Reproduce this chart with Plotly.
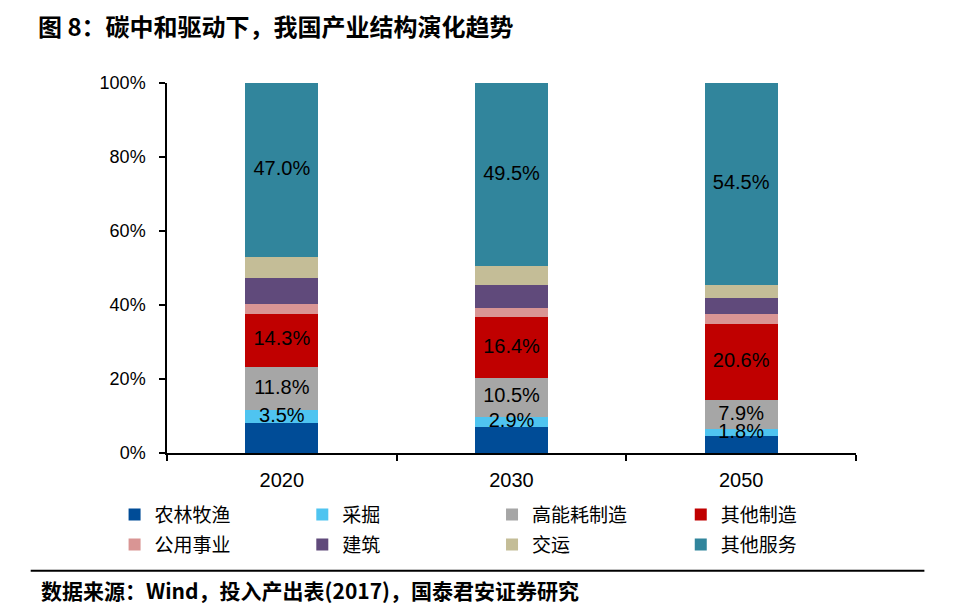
import plotly.graph_objects as go

years = ["2020", "2030", "2050"]
series_names = ["农林牧渔", "采掘", "高能耗制造", "其他制造", "公用事业", "建筑", "交运", "其他服务"]
agri = [8.0, 6.9, 4.6]
mining = [3.5, 2.9, 1.8]
high_energy = [11.8, 10.5, 7.9]
other_mfg = [14.3, 16.4, 20.6]
utilities = [2.6, 2.5, 2.6]
construction = [7.0, 6.1, 4.5]
transport = [5.8, 5.2, 3.5]
services = [47.0, 49.5, 54.5]
values = [agri, mining, high_energy, other_mfg, utilities, construction, transport, services]
labelled = [False, True, True, True, False, False, False, True]
colors = ["#004C97", "#4FC4F0", "#A6A6A6", "#C00000", "#D99594", "#604A7B", "#C4BD97", "#31859C"]
y_ticks = [0, 20, 40, 60, 80, 100]
y_tick_text = [f"{v}%" for v in y_ticks]

W, H = 960, 611
L, R, T, B = 166.5, 103.5, 83.3, 157.7
pw, ph = W - L - R, H - T - B


def px_x(x):
    return (x - L) / pw


def px_y(y):
    return (H - B - y) / ph


fig = go.Figure()
legend_pos = [(114, 515), (302, 515), (492, 515), (681, 515),
              (114, 545), (302, 545), (492, 545), (681, 545)]
for i, (name, vals, col) in enumerate(zip(series_names, values, colors)):
    lg = "legend" if i == 0 else f"legend{i+1}"
    fig.add_trace(go.Bar(
        x=years, y=vals, name=name, marker=dict(color=col, line=dict(width=0)),
        legend=lg, hoverinfo="skip",
    ))

# data labels drawn on top of all bars, at the middle of each labelled segment
base = [0.0] * len(years)
for vals, lab in zip(values, labelled):
    mids = [b + v / 2 for b, v in zip(base, vals)]
    if lab:
        fig.add_trace(go.Scatter(
            x=years, y=mids, mode="text",
            text=[f"{v:.1f}%" for v in vals],
            textposition="middle center",
            textfont=dict(family="Liberation Sans", size=20, color="black"),
            showlegend=False, hoverinfo="skip", cliponaxis=False,
        ))
    base = [b + v for b, v in zip(base, vals)]

legend_common = dict(
    orientation="v", bgcolor="rgba(0,0,0,0)", borderwidth=0,
    font=dict(family="Noto Sans CJK SC", size=19, color="black"),
    xanchor="left", yanchor="middle", itemwidth=30,
    itemclick=False, itemdoubleclick=False,
)
layout_legends = {}
for i, (lx, ly) in enumerate(legend_pos):
    key = "legend" if i == 0 else f"legend{i+1}"
    layout_legends[key] = dict(legend_common, x=px_x(lx), y=px_y(ly))

fig.update_layout(
    width=W, height=H,
    margin=dict(l=L, r=R, t=T, b=B, autoexpand=False),
    paper_bgcolor="white", plot_bgcolor="white",
    barmode="stack", bargap=0.683,
    showlegend=True,
    xaxis=dict(
        type="category", showline=True, linecolor="black", linewidth=1.5,
        ticks="outside", ticklen=6, tickcolor="black", tickwidth=1.5,
        tickson="boundaries", showgrid=False,
        tickfont=dict(family="Liberation Sans", size=20, color="black"),
        ticklabelstandoff=8,
    ),
    yaxis=dict(
        range=[0, 100], tickvals=y_ticks, ticktext=y_tick_text,
        showline=True, linecolor="black", linewidth=1.5,
        ticks="outside", ticklen=6, tickcolor="black", tickwidth=1.5,
        showgrid=False, zeroline=False,
        tickfont=dict(family="Liberation Sans", size=18, color="black"),
        ticklabelstandoff=10,
    ),
    title=dict(
        text="<b>图 8：碳中和驱动下，我国产业结构演化趋势</b>",
        x=38 / W, xref="container", xanchor="left",
        y=1 - 28 / H, yref="container", yanchor="middle",
        font=dict(family="Noto Sans CJK SC", size=24, color="black"),
    ),
    annotations=[dict(
        text="<b>数据来源：Wind，投入产出表(2017)，国泰君安证券研究</b>",
        xref="paper", yref="paper", x=px_x(38), y=px_y(590),
        xanchor="left", yanchor="middle", showarrow=False,
        font=dict(family="Noto Sans CJK SC", size=21, color="black"),
    )],
    shapes=[dict(
        type="line", xref="paper", yref="paper",
        x0=px_x(30), x1=px_x(925), y0=px_y(571), y1=px_y(571),
        line=dict(color="black", width=2),
    )],
    **layout_legends,
)

fig.write_html("out.html", config={"displayModeBar": False},
               post_script="document.body.style.margin='0px';")
